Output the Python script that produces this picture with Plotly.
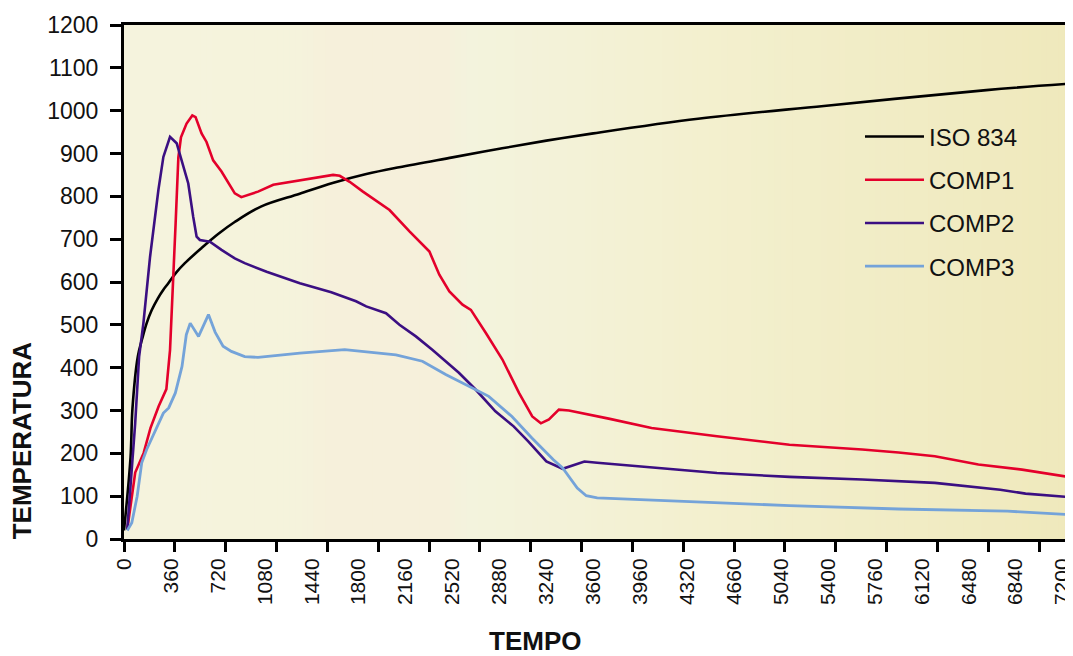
import plotly.graph_objects as go
import numpy as np

# ---------------- data ----------------
iso_t = [0, 50, 65, 106, 140, 174, 212, 260, 302, 340, 400, 467, 594, 722, 849, 1050,
         1348, 1600, 1859, 2111, 2520, 2880, 3240, 3600, 4404, 5369, 6615, 7257]
iso_T = [20, 190, 305, 426, 468, 504, 534, 562, 582, 597, 622, 644, 679, 712, 740, 776,
         806, 831, 852, 868, 891, 911, 930, 947, 981, 1011, 1048, 1063]

comp1_t = [25, 86, 151, 203, 266, 325, 353, 371, 396, 417, 437, 480, 524, 549, 595, 633,
           684, 748, 850, 900, 1028, 1145, 1349, 1604, 1655, 1731, 1833, 2037, 2190, 2343,
           2419, 2496, 2597, 2661, 2776, 2903, 3030, 3132, 3198, 3260, 3336, 3413, 3718,
           4047, 4549, 5105, 5663, 5942, 6220, 6359, 6554, 6889, 7245]
comp1_T = [22, 155, 201, 259, 310, 350, 441, 581, 737, 891, 938, 970, 989, 985, 947, 927,
           884, 858, 807, 798, 811, 827, 838, 850, 848, 834, 811, 768, 718, 671,
           617, 578, 547, 535, 481, 419, 341, 286, 270, 279, 302, 300, 281,
           259, 240, 220, 209, 202, 193, 185, 174, 162, 145]

comp2_t = [25, 86, 116, 149, 200, 264, 302, 353, 404, 455, 493, 531, 557, 582, 659, 748,
           850, 926, 1028, 1094, 1349, 1590, 1780, 1858, 2010, 2113, 2239, 2365, 2569, 2697,
           2849, 2989, 3101, 3240, 3365, 3532, 3630, 3992, 4549, 5105, 5663, 6220, 6499,
           6722, 6916, 7245]
comp2_T = [22, 271, 426, 504, 659, 815, 892, 939, 924, 869, 830, 752, 706, 698, 694, 675,
           655, 644, 632, 624, 597, 576, 555, 543, 527, 500, 473, 442, 388, 349,
           298, 263, 228, 181, 164, 181, 178, 168, 154, 145, 139, 131, 122,
           115, 106, 98]

comp3_t = [25, 60, 101, 136, 174, 238, 302, 343, 394, 445, 478, 508, 572, 648, 699, 760,
           824, 926, 1028, 1349, 1693, 2086, 2289, 2468, 2671, 2798, 2976, 3129, 3294, 3365,
           3477, 3546, 3630, 4270, 5105, 5942, 6777, 7245]
comp3_T = [20, 38, 100, 178, 209, 252, 294, 306, 341, 403, 477, 504, 473, 524, 483, 450,
           438, 426, 424, 434, 442, 430, 415, 384, 352, 333, 286, 236, 185, 166,
           119, 101, 96, 88, 78, 70, 65, 57]

x_tick_vals = [0, 360, 720, 1080, 1440, 1800, 2160, 2520, 2880, 3240, 3600, 3960, 4320,
               4680, 5040, 5400, 5760, 6120, 6480, 6840, 7200]
x_tick_text = ["0", "360", "720", "1080", "1440", "1800", "2160", "2520", "2880", "3240",
               "3600", "3960", "4320", "4660", "5040", "5400", "5760", "6120", "6480",
               "6840", "7200"]
x_tickmark_step = 390  # tick marks in the reference are spaced slightly wider than the labels

series_names = ["ISO 834", "COMP1", "COMP2", "COMP3"]
series_colors = ["#000000", "#e4002b", "#3b0f82", "#74a3d9"]

# ---------------- figure ----------------
fig = go.Figure()
series = [(iso_t, iso_T), (comp1_t, comp1_T), (comp2_t, comp2_T), (comp3_t, comp3_T)]
for i, ((tx, ty), name, col) in enumerate(zip(series, series_names, series_colors)):
    fig.add_trace(go.Scatter(
        x=tx, y=ty, mode="lines", name=name, legendgroup=name,
        line=dict(color=col, width=2.6 if i < 3 else 2.8,
                  shape="spline" if i == 0 else "linear"),
    ))

# background gradient (left -> right)
stops = [(0.0, (245, 243, 221)), (0.185, (245, 243, 220)), (0.217, (246, 240, 219)),
         (0.338, (246, 240, 219)), (0.365, (243, 243, 221)), (0.46, (243, 242, 216)),
         (0.607, (243, 240, 207)), (0.818, (241, 236, 197)), (1.0, (239, 233, 188))]
sp = np.array([s[0] for s in stops])
cols = np.array([s[1] for s in stops], dtype=float)
n = 160
shapes = []
for k in range(n):
    f0, f1 = k / n, (k + 1) / n
    fm = (f0 + f1) / 2
    c = [int(round(np.interp(fm, sp, cols[:, j]))) for j in range(3)]
    shapes.append(dict(type="rect", xref="paper", yref="paper", x0=f0, x1=min(1, f1 + 0.002),
                       y0=0, y1=1, fillcolor=f"rgb({c[0]},{c[1]},{c[2]})",
                       line=dict(width=0), layer="below"))

font_family = "Liberation Sans, Arial, sans-serif"
x_max = 7257
tickmark_vals = list(range(0, x_max, x_tickmark_step))

fig.update_layout(
    width=1065, height=648,
    margin=dict(l=116, r=0, t=17, b=117),
    paper_bgcolor="white", plot_bgcolor="#f4f2dc",
    shapes=shapes,
    showlegend=True,
    legend=dict(x=0.778, y=0.826, xanchor="left", yanchor="top",
                bgcolor="rgba(0,0,0,0)", borderwidth=0,
                font=dict(family=font_family, size=24, color="#111111"),
                itemwidth=59, tracegroupgap=9, traceorder="grouped"),
    xaxis=dict(range=[0, x_max], tickmode="array", tickvals=x_tick_vals, ticktext=x_tick_text,
               tickangle=-90, ticks="", showline=True, linecolor="black", linewidth=3,
               mirror=True, showgrid=False, zeroline=False, ticklabelstandoff=8,
               ticklabeloverflow="allow",
               minor=dict(tickmode="array", tickvals=tickmark_vals, ticks="outside",
                          ticklen=10, tickwidth=2.5, tickcolor="black", showgrid=False),
               tickfont=dict(family=font_family, size=21, color="#111111")),
    yaxis=dict(range=[0, 1200], tickmode="linear", tick0=0, dtick=100, ticks="outside",
               ticklen=11, tickwidth=2.5, tickcolor="black", showline=True, linecolor="black",
               linewidth=3, mirror=False, showgrid=False, zeroline=False,
               ticklabelstandoff=7,
               tickfont=dict(family=font_family, size=23, color="#111111")),
    annotations=[
        dict(text="<b>TEMPERATURA</b>", xref="paper", yref="paper", x=-0.1075, y=0.1926,
             xanchor="center", yanchor="middle", textangle=-90, showarrow=False,
             font=dict(family=font_family, size=26, color="#111111")),
        dict(text="<b>TEMPO</b>", xref="paper", yref="paper", x=0.434, y=-0.1975,
             xanchor="center", yanchor="middle", showarrow=False, borderpad=0,
             font=dict(family=font_family, size=26, color="#111111")),
    ],
)

fig.write_html("out.html")
